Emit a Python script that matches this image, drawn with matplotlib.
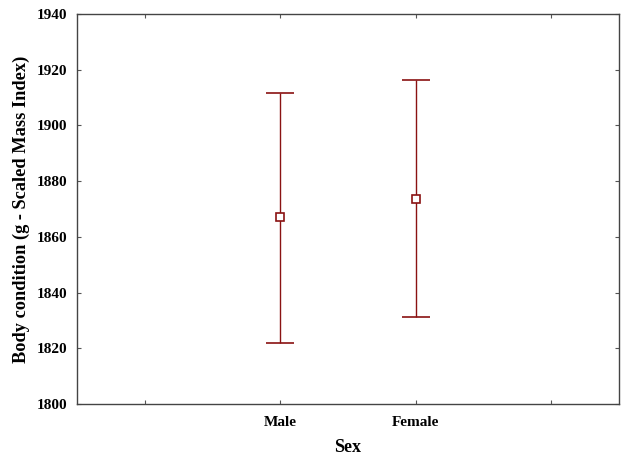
import numpy as np
import matplotlib.pyplot as plt

sexes = ['Male', 'Female']
means = [1867.0, 1873.5]
upper = [1911.5, 1916.2]
lower = [1822.0, 1831.2]

plt.rcParams['font.family'] = 'Liberation Serif'
plt.rcParams['font.weight'] = 'bold'

fig = plt.figure(figsize=(6.22, 4.58), dpi=100)
ax = fig.add_axes([77/622, 1-404/458, 542/622, 390/458])

x = np.array([1, 2])
m = np.array(means)
err = [m - np.array(lower), np.array(upper) - m]
col = '#8a1212'
ax.errorbar(x, m, yerr=err, fmt='s', color=col, ecolor=col, elinewidth=1.0,
            capsize=10, capthick=1.0, markersize=5.5, markerfacecolor='white',
            markeredgecolor=col, markeredgewidth=1.2)

ax.set_xlim(-0.5, 3.5)
ax.set_xticks([0, 1, 2, 3])
ax.set_xticklabels(['', 'Male', 'Female', ''])
ax.set_ylim(1800, 1940)
ax.set_yticks(np.arange(1800, 1941, 20))
ax.tick_params(direction='in', length=3, width=0.8, top=True, right=True,
               labelsize=11, color='#555555', pad=7)
ax.tick_params(axis='x', pad=9)
for s in ax.spines.values():
    s.set_color('#444444')
    s.set_linewidth(1.0)

ax.set_xlabel('Sex', fontsize=13, fontweight='bold', labelpad=7)
ax.set_ylabel('Body condition (g - Scaled Mass Index)', fontsize=13.2,
              fontweight='bold', labelpad=5)

fig.savefig('out.png', dpi=100)
